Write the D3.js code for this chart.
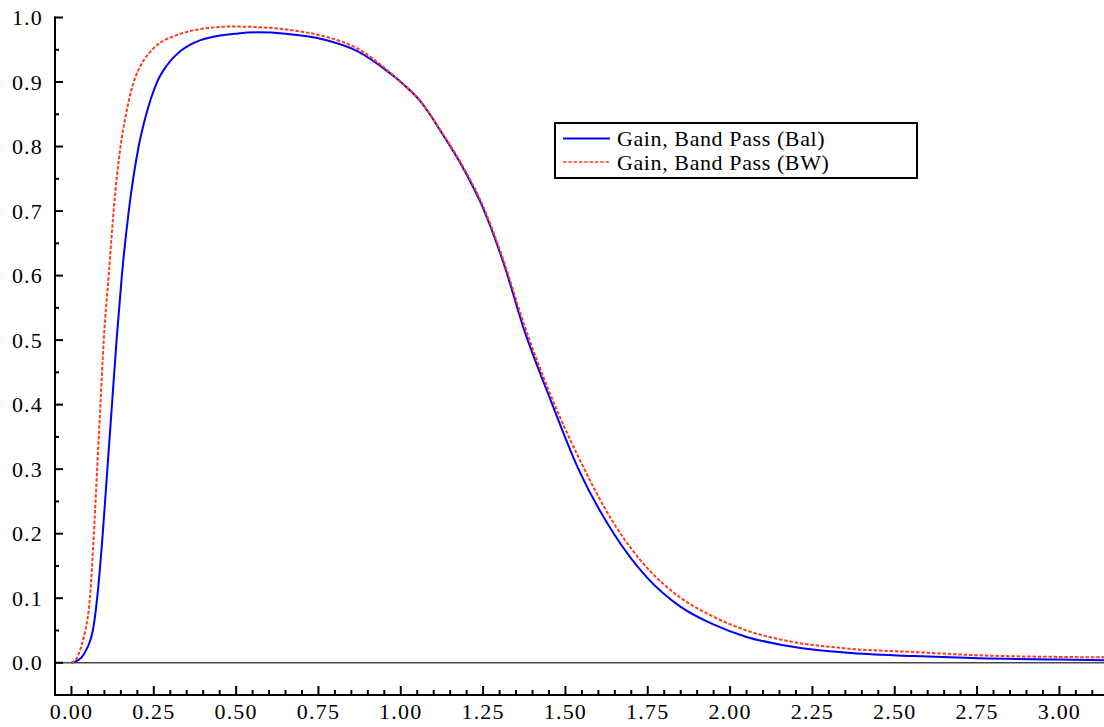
<!DOCTYPE html>
<html>
<head>
<meta charset="utf-8">
<script src="https://cdn.jsdelivr.net/npm/d3@7"></script>
<style>
  body { margin: 0; background: #fff; }
</style>
</head>
<body>
<div id="chart"></div>
<script>
// Gain, Band Pass (Bal)
const balX = [0.000, 0.030, 0.045, 0.056, 0.065, 0.078, 0.095, 0.109, 0.123, 0.137, 0.153, 0.174, 0.204, 0.225, 0.260, 0.290, 0.331, 0.361, 0.392, 0.450, 0.500, 0.564, 0.650, 0.766, 0.868, 0.969, 1.000, 1.060, 1.126, 1.190, 1.247, 1.313, 1.374, 1.455, 1.536, 1.647, 1.748, 1.849, 1.951, 2.050, 2.153, 2.356, 2.558, 2.756, 3.000, 3.140];
const balY = [0.000, 0.008, 0.020, 0.033, 0.050, 0.100, 0.200, 0.300, 0.400, 0.500, 0.600, 0.700, 0.800, 0.846, 0.900, 0.926, 0.948, 0.958, 0.965, 0.972, 0.975, 0.977, 0.975, 0.966, 0.948, 0.913, 0.900, 0.870, 0.820, 0.766, 0.708, 0.618, 0.517, 0.407, 0.304, 0.200, 0.132, 0.087, 0.059, 0.040, 0.028, 0.0155, 0.0104, 0.0068, 0.005, 0.004];

// Gain, Band Pass (BW)
const bwX = [0.000, 0.015, 0.025, 0.035, 0.042, 0.056, 0.068, 0.078, 0.088, 0.098, 0.113, 0.128, 0.149, 0.164, 0.189, 0.215, 0.245, 0.321, 0.361, 0.392, 0.490, 0.600, 0.700, 0.766, 0.868, 0.969, 1.000, 1.060, 1.126, 1.190, 1.247, 1.313, 1.374, 1.455, 1.546, 1.647, 1.748, 1.849, 1.951, 2.050, 2.153, 2.356, 2.558, 2.756, 3.000, 3.140];
const bwY = [0.000, 0.006, 0.018, 0.035, 0.050, 0.100, 0.200, 0.300, 0.400, 0.500, 0.600, 0.700, 0.800, 0.846, 0.900, 0.930, 0.950, 0.973, 0.979, 0.982, 0.986, 0.984, 0.978, 0.971, 0.952, 0.914, 0.900, 0.870, 0.821, 0.768, 0.711, 0.622, 0.525, 0.415, 0.312, 0.216, 0.147, 0.101, 0.071, 0.050, 0.036, 0.022, 0.0166, 0.0115, 0.009, 0.0084];

const xTicks = [0, 0.25, 0.5, 0.75, 1.0, 1.25, 1.5, 1.75, 2.0, 2.25, 2.5, 2.75, 3.0];
const yTicks = [0, 0.1, 0.2, 0.3, 0.4, 0.5, 0.6, 0.7, 0.8, 0.9, 1.0];
const seriesNames = ["Gain, Band Pass (Bal)", "Gain, Band Pass (BW)"];

const width = 1104, height = 727;
const serif = "Liberation Serif, DejaVu Serif, serif";

const svg = d3.select("#chart").append("svg")
    .attr("width", width)
    .attr("height", height)
    .attr("font-family", serif);

const x = d3.scaleLinear().domain([-0.05, 3.14]).range([55, 1105.5]);
const y = d3.scaleLinear().domain([-0.05, 1.0]).range([695, 17.5]);

// zero line
svg.append("line")
    .attr("x1", x(-0.05)).attr("x2", width)
    .attr("y1", y(0)).attr("y2", y(0))
    .attr("stroke", "#4a4a4a").attr("stroke-width", 1.6);

// curves
const line = d3.line()
    .x(d => x(d[0]))
    .y(d => y(d[1]))
    .curve(d3.curveMonotoneX);

const balData = balX.map((v, i) => [v, balY[i]]);
const bwData = bwX.map((v, i) => [v, bwY[i]]);

svg.append("path")
    .datum(balData)
    .attr("d", line)
    .attr("fill", "none")
    .attr("stroke", "#0000ff")
    .attr("stroke-width", 2);

svg.append("path")
    .datum(bwData)
    .attr("d", line)
    .attr("fill", "none")
    .attr("stroke", "#ff3b1a")
    .attr("stroke-width", 2)
    .attr("stroke-dasharray", "3.5,1.8");

// y axis (ticks inside)
const yMinor = d3.range(-0.05, 1.0001, 0.05);
const yAxis = svg.append("g").attr("transform", `translate(${x(-0.05)},0)`);
yAxis.append("line")
    .attr("x1", 0).attr("x2", 0)
    .attr("y1", y(1.0) - 1).attr("y2", y(-0.05))
    .attr("stroke", "#000").attr("stroke-width", 2);
yAxis.selectAll(".ymin").data(yMinor).enter().append("line")
    .attr("x1", 0).attr("x2", d => Math.abs(Math.round(d * 10) - d * 10) < 1e-6 ? 8 : 4)
    .attr("y1", d => y(d)).attr("y2", d => y(d))
    .attr("stroke", "#000").attr("stroke-width", 2);
yAxis.selectAll(".ylab").data(yTicks).enter().append("text")
    .attr("x", -12)
    .attr("y", d => y(d))
    .attr("dy", "0.35em")
    .attr("text-anchor", "end")
    .attr("font-size", 22)
    .attr("letter-spacing", 1.2)
    .text(d => d.toFixed(1));

// x axis (ticks inside)
const xMinor = d3.range(0, 3.14, 0.05);
const xAxis = svg.append("g").attr("transform", `translate(0,${y(-0.05)})`);
xAxis.append("line")
    .attr("x1", x(-0.05) - 1).attr("x2", width)
    .attr("y1", 0).attr("y2", 0)
    .attr("stroke", "#000").attr("stroke-width", 2);
xAxis.selectAll(".xmin").data(xMinor).enter().append("line")
    .attr("x1", d => x(d)).attr("x2", d => x(d))
    .attr("y1", 0)
    .attr("y2", d => Math.abs(Math.round(d * 4) - d * 4) < 1e-6 ? -9 : -5)
    .attr("stroke", "#000").attr("stroke-width", 2);
xAxis.selectAll(".xlab").data(xTicks).enter().append("text")
    .attr("x", d => x(d))
    .attr("y", 24)
    .attr("text-anchor", "middle")
    .attr("font-size", 22)
    .attr("letter-spacing", 1.2)
    .text(d => d.toFixed(2));

// legend
const legend = svg.append("g").attr("transform", "translate(555,123)");
legend.append("rect")
    .attr("width", 362).attr("height", 55)
    .attr("fill", "#fff").attr("stroke", "#000").attr("stroke-width", 2);
const legendStyles = [
    { color: "#0000ff", dash: null },
    { color: "#ff3b1a", dash: "3.5,1.8" }
];
seriesNames.forEach((name, i) => {
    legend.append("line")
        .attr("x1", 8).attr("x2", 55)
        .attr("y1", 15.5 + i * 23.5).attr("y2", 15.5 + i * 23.5)
        .attr("stroke", legendStyles[i].color)
        .attr("stroke-width", i === 0 ? 2 : 1.5)
        .attr("stroke-dasharray", legendStyles[i].dash);
    legend.append("text")
        .attr("x", 62)
        .attr("y", 23 + i * 23.5)
        .attr("font-size", 22)
        .attr("letter-spacing", 0.6)
        .text(name);
});
</script>
</body>
</html>
